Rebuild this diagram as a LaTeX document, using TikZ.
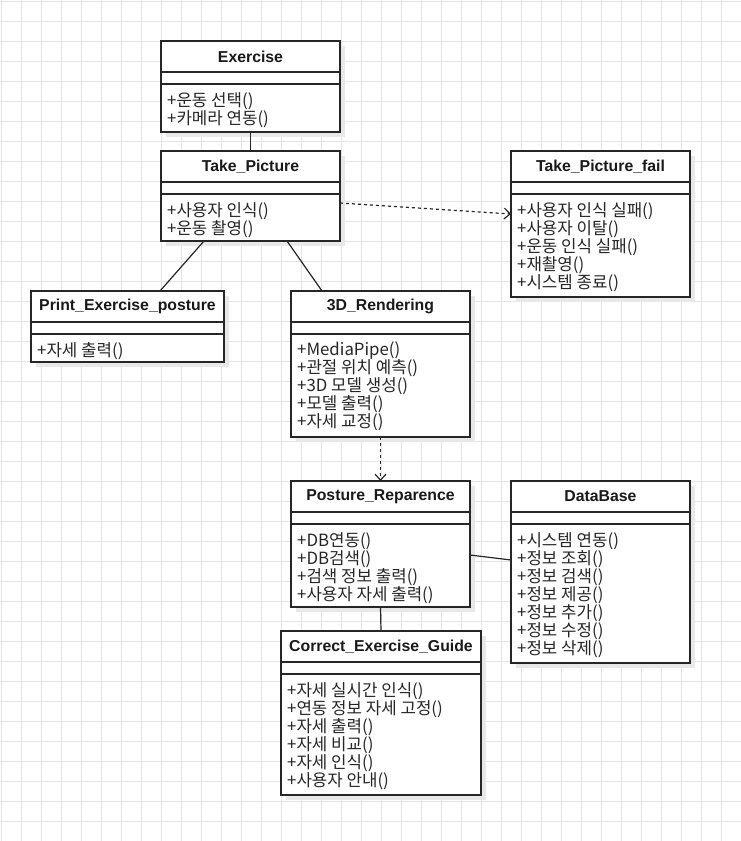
\documentclass[tikz,border=0pt]{standalone}
\usepackage{fontspec}
\setmainfont{Liberation Sans}
\newfontfamily\krfont{Noto Sans CJK KR}
\usetikzlibrary{calc,arrows.meta}
\tikzset{
  gridline/.style={draw=black!10, line width=0.8pt},
  shadowbox/.style={fill=black!9, draw=none},
  classbox/.style={draw=black!85, fill=white, line width=1.3pt, inner sep=0pt, outer sep=0pt},
  sepline/.style={draw=black!85, line width=1.3pt},
  titletext/.style={font=\bfseries\fontsize{15.8}{17}\selectfont, text=black!90, inner sep=0pt},
  methtext/.style={font=\krfont\fontsize{16.8}{18}\selectfont, text=black!85, align=left, inner sep=0pt},
  assoc/.style={draw=black!85, line width=1.2pt},
  depend/.style={draw=black!85, line width=1.2pt, dash pattern=on 3pt off 3pt, -{Straight Barb[length=6pt,width=11pt,line width=1.2pt]}},
}
\newcommand\umlclass[7]{%
  \fill[shadowbox] (#2+5,#3+5) rectangle ++(#4,#5);
  \node[classbox, minimum width=#4, minimum height=#5, anchor=north west] (#1) at (#2,#3) {};
  \node[titletext] (#1-t) at ($(#1.north)+(0,15.5)$) {#6};
  \draw[sepline] ($(#1.north west)+(0,31)$) -- ($(#1.north east)+(0,31)$);
  \draw[sepline] ($(#1.north west)+(0,43)$) -- ($(#1.north east)+(0,43)$);
  \node[methtext, anchor=north west] (#1-m) at ($(#1.north west)+(6,51)$) {#7};
}
\begin{document}
\begin{tikzpicture}[x=1pt,y=-1pt]
\useasboundingbox (0,0) rectangle (741,841);
\fill[white] (0,0) rectangle (741,841);
\foreach \g in {1,21,...,741} {\draw[gridline] (\g,0) -- (\g,841);}
\foreach \g in {1,21,...,841} {\draw[gridline] (0,\g) -- (741,\g);}

\umlclass{ex}{161}{41}{179}{91}{Exercise}{+운동 선택()\\+카메라 연동()}
\umlclass{tp}{161}{151}{179}{90}{Take\_Picture}{+사용자 인식()\\+운동 촬영()}
\umlclass{tpf}{511}{151}{179}{146}{Take\_Picture\_fail}{+사용자 인식 실패()\\+사용자 이탈()\\+운동 인식 실패()\\+재촬영()\\+시스템 종료()}
\umlclass{pep}{31}{291}{193}{71}{Print\_Exercise\_posture}{+자세 출력()}
\umlclass{rd}{291}{291}{179}{146}{3D\_Rendering}{+MediaPipe()\\+관절 위치 예측()\\+3D 모델 생성()\\+모델 출력()\\+자세 교정()}
\umlclass{pr}{291}{481}{179}{126}{Posture\_Reparence}{+DB연동()\\+DB검색()\\+검색 정보 출력()\\+사용자 자세 출력()}
\umlclass{db}{511}{481}{179}{182}{DataBase}{+시스템 연동()\\+정보 조회()\\+정보 검색()\\+정보 제공()\\+정보 추가()\\+정보 수정()\\+정보 삭제()}
\umlclass{ceg}{281}{631}{200}{164}{Correct\_Exercise\_Guide}{+자세 실시간 인식()\\+연동 정보 자세 고정()\\+자세 출력()\\+자세 비교()\\+자세 인식()\\+사용자 안내()}

\draw[assoc] (ex.south) -- (tp.north);
\draw[assoc] ($(tp.south west)+(43,0)$) -- ($(pep.north west)+(129,0)$);
\draw[assoc] ($(tp.south west)+(126,0)$) -- ($(rd.north west)+(31,0)$);
\draw[depend] ($(tp.north east)+(0,52)$) -- ($(tpf.north west)+(0,63)$);
\draw[depend] (rd.south) -- (pr.north);
\draw[assoc] ($(pr.north east)+(0,74)$) -- ($(db.north west)+(0,79)$);
\draw[assoc] (pr.south) -- (ceg.north);
\end{tikzpicture}
\end{document}
